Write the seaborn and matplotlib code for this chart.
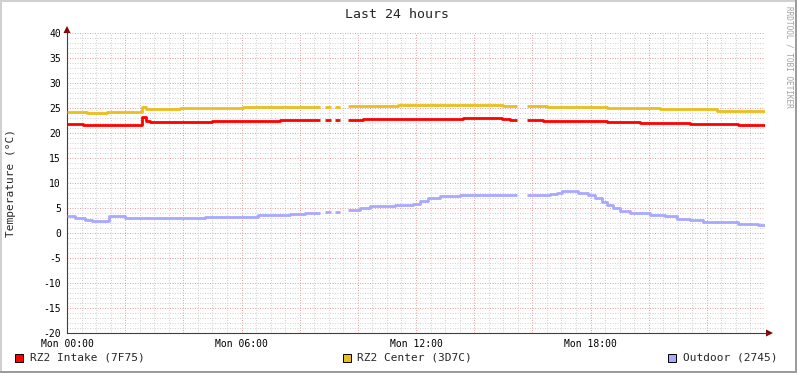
import numpy as np
import pandas as pd
import matplotlib
matplotlib.use("Agg")
import matplotlib.pyplot as plt
from matplotlib.patches import Rectangle, Polygon
from matplotlib.lines import Line2D
import seaborn as sns

nan = np.nan

# ---- data (hours since Mon 00:00, step values in °C; v[i] holds from t[i] to t[i+1]) ----
t_intake = [0, 0.55, 2.58, 2.72, 2.85, 3.65, 4.99, 5.19, 5.85, 7.32,
            8.70, 8.87, 9.08, 9.22, 9.39, 9.66,
            10.18, 13.62, 14.96, 15.23, 15.47, 15.82,
            16.37, 18.57, 19.71, 21.42, 23.08, 24.0]
v_intake = [21.8, 21.6, 23.3, 22.5, 22.2, 22.3, 22.5, 22.4, 22.5, 22.7,
            nan, 22.7, nan, 22.7, nan, 22.7,
            22.9, 23.0, 22.8, 22.7, nan, 22.6,
            22.5, 22.2, 22.0, 21.8, 21.7]

t_center = [0, 0.69, 1.38, 2.58, 2.72, 3.89, 6.05,
            8.70, 8.87, 9.08, 9.22, 9.39,
            9.66, 11.39, 13.96, 14.99, 15.47,
            15.82, 16.51, 18.57, 20.39, 22.35, 24.0]
v_center = [24.3, 24.1, 24.3, 25.3, 24.8, 25.0, 25.3,
            nan, 25.3, nan, 25.3, nan,
            25.5, 25.6, 25.7, 25.5, nan,
            25.4, 25.3, 25.1, 24.8, 24.5]

t_outdoor = [0, 0.28, 0.62, 0.86, 1.44, 1.99, 4.75, 6.57, 7.67, 8.18,
             8.70, 8.87, 9.08, 9.22, 9.39, 9.66,
             10.08, 10.42, 11.28, 11.90, 12.14, 12.41, 12.83, 13.51,
             15.47, 15.82, 16.61, 16.85, 17.02, 17.57, 17.92, 18.16, 18.40, 18.57,
             18.78, 19.02, 19.36, 20.05, 20.56, 20.98, 21.42, 21.87, 23.07, 23.76,
             24.0]
v_outdoor = [3.5, 3.1, 2.7, 2.4, 3.4, 3.1, 3.3, 3.6, 3.8, 4.1,
             nan, 4.2, nan, 4.3, nan, 4.7,
             5.0, 5.5, 5.6, 5.9, 6.5, 7.1, 7.4, 7.7,
             nan, 7.6, 7.8, 8.0, 8.4, 8.1, 7.7, 7.1, 6.3, 5.6,
             5.0, 4.5, 4.0, 3.7, 3.4, 2.9, 2.6, 2.3, 1.9, 1.6]

series_names = ["RZ2 Intake (7F75)", "RZ2 Center (3D7C)", "Outdoor (2745)"]
series_t = [t_intake, t_center, t_outdoor]
series_v = [v_intake, v_center, v_outdoor]
series_colors = ["#FF0000", "#EABF1C", "#A8A8FF"]

x_tick_labels = {0: "Mon 00:00", 6: "Mon 06:00", 12: "Mon 12:00", 18: "Mon 18:00"}
y_ticks = list(range(-20, 41, 5))

# ---- setup ----
sns.set_theme(style="white")
plt.rcParams["font.family"] = ["DejaVu Sans Mono", "DejaVu Sans"]

W, H = 797, 373
fig = plt.figure(figsize=(W / 100, H / 100), dpi=100)
fig.patch.set_facecolor("white")


def fx(x):
    return x / W


def fy(y):
    return 1 - y / H


ax = fig.add_axes([fx(67), fy(333), (765 - 67) / W, 300 / H])
ax.set_facecolor("white")
ax.set_xlim(0, 24)
ax.set_ylim(-20, 40)


def step_segments(t, v):
    segs, xs, ys = [], [], []
    for i in range(len(v)):
        if np.isnan(v[i]):
            if xs:
                segs.append((xs, ys))
            xs, ys = [], []
            continue
        xs += [t[i], t[i + 1]]
        ys += [v[i], v[i]]
    if xs:
        segs.append((xs, ys))
    return segs


for t, v, c in zip(series_t, series_v, series_colors):
    for xs, ys in step_segments(t, v):
        df = pd.DataFrame({"hour": xs, "temp": ys})
        sns.lineplot(data=df, x="hour", y="temp", ax=ax, color=c, lw=2.0,
                     sort=False, estimator=None, legend=False,
                     solid_capstyle="butt", zorder=3)

# ticks & grid
ax.set_xticks(np.arange(0, 24, 2))
ax.set_xticklabels([x_tick_labels.get(int(h), "") for h in np.arange(0, 24, 2)])
ax.set_xticks(np.arange(0, 24.01, 0.5), minor=True)
ax.set_yticks(y_ticks)
ax.set_yticklabels([str(v) for v in y_ticks])
ax.set_yticks(np.arange(-20, 40.01, 1), minor=True)

ax.grid(which="minor", color="#C4C4C4", linestyle=(0, (1, 1.5)), lw=0.72,
        alpha=0.75, zorder=0)
ax.grid(which="major", color="#DC8C8C", linestyle=(0, (1, 1.5)), lw=0.72,
        alpha=0.8, zorder=0)
ax.set_axisbelow(True)

ax.tick_params(axis="both", which="major", direction="out", length=3, width=0.72,
               color="#C04040", labelsize=7, pad=1.5, labelcolor="black")
ax.tick_params(axis="both", which="minor", direction="out", length=2, width=0.72,
               color="#B0B0B0")
ax.set_xlabel("")
ax.set_ylabel("")

for s in ["top", "right"]:
    ax.spines[s].set_visible(False)
for s in ["left", "bottom"]:
    ax.spines[s].set_color("#404040")
    ax.spines[s].set_linewidth(0.8)

# axis extensions and arrows
fig.add_artist(Line2D([fx(765), fx(768)], [fy(333), fy(333)], color="#404040", lw=0.8))
fig.add_artist(Line2D([fx(67), fx(67)], [fy(33), fy(30)], color="#404040", lw=0.8))
fig.add_artist(Polygon([(fx(766), fy(329.5)), (fx(766), fy(336.5)), (fx(773), fy(333))],
                       closed=True, facecolor="#7F0000", edgecolor="none"))
fig.add_artist(Polygon([(fx(63.5), fy(33)), (fx(70.5), fy(33)), (fx(67), fy(26))],
                       closed=True, facecolor="#7F0000", edgecolor="none"))

# texts
fig.text(fx(397), fy(14), "Last 24 hours", ha="center", va="center", fontsize=9.5)
fig.text(fx(11), fy(183), "Temperature (°C)", rotation=90, ha="center", va="center",
         fontsize=8)
fig.text(fx(789), fy(6), "RRDTOOL / TOBI OETIKER", rotation=270, ha="center", va="top",
         fontsize=5.6, color="#A0A0A0")

# legend
leg_sq_x = [15, 343, 668]
leg_txt_x = [30, 357, 683]
for name, c, sx, tx in zip(series_names, series_colors, leg_sq_x, leg_txt_x):
    fig.add_artist(Rectangle((fx(sx), fy(362)), 8 / W, 8 / H, facecolor=c,
                             edgecolor="black", lw=0.7))
    fig.text(fx(tx), fy(358), name, ha="left", va="center", fontsize=8)

# frame
fig.add_artist(Rectangle((0, 0), 1, 2 / H, facecolor="#9C9C9C", edgecolor="none"))
fig.add_artist(Rectangle((1 - 2 / W, 0), 2 / W, 1, facecolor="#9C9C9C", edgecolor="none"))
fig.add_artist(Rectangle((0, 1 - 2 / H), 1 - 2 / W, 2 / H, facecolor="#D0D0D0", edgecolor="none"))
fig.add_artist(Rectangle((0, 2 / H), 2 / W, 1 - 4 / H, facecolor="#D0D0D0", edgecolor="none"))

fig.savefig("out.png", dpi=100)
